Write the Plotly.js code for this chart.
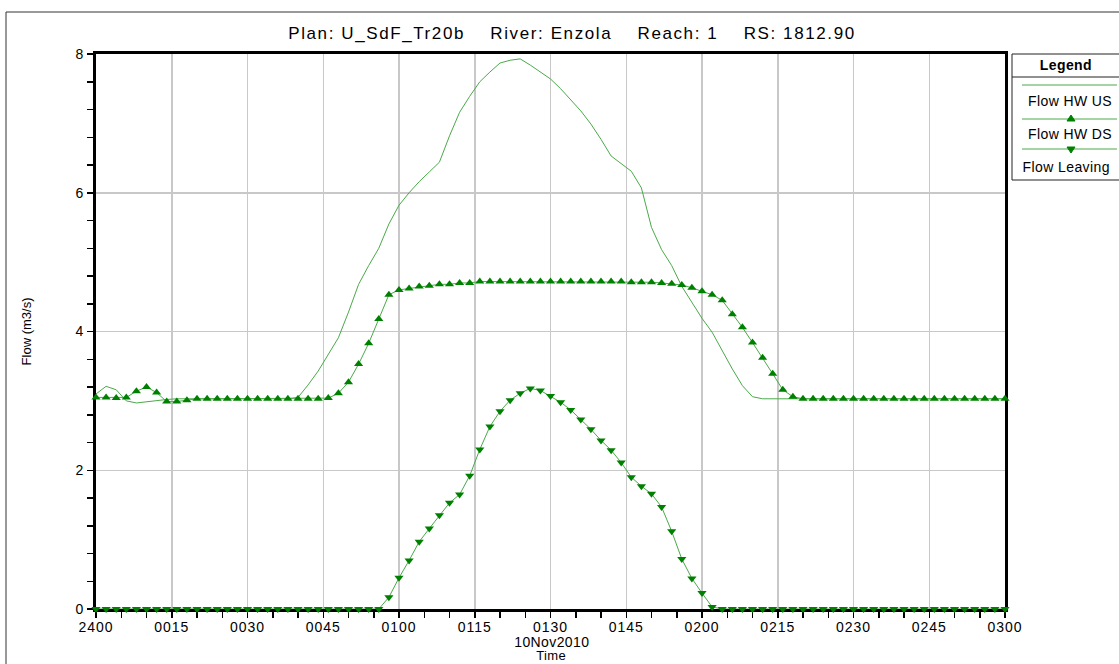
<!DOCTYPE html>
<html>
<head>
<meta charset="utf-8">
<script src="https://cdn.plot.ly/plotly-3.0.1.min.js"></script>
<style>
html,body{margin:0;padding:0;background:#fff;}
#chart{width:1119px;height:664px;}
#chart .gtitle{letter-spacing:1.6px;}
#chart .xtick text{letter-spacing:1px;}
#chart .ytick text{letter-spacing:1px;}
#chart .annotation-text{letter-spacing:0.4px;}
</style>
</head>
<body>
<div id="chart"></div>
<script>
// Time in minutes after 2400 (10Nov2010), 2-minute output interval
var timeMin = [0,2,4,6,8,10,12,14,16,18,20,22,24,26,28,30,32,34,36,38,40,42,44,46,48,50,52,54,56,58,
  60,62,64,66,68,70,72,74,76,78,80,82,84,86,88,90,92,94,96,98,100,102,104,106,108,110,112,114,116,118,
  120,122,124,126,128,130,132,134,136,138,140,142,144,146,148,150,152,154,156,158,160,162,164,166,168,170,172,174,176,178,180];

var flowHWUS = [3.10,3.21,3.16,3.00,2.97,2.99,3.01,3.02,
  3.03,3.03,3.03,3.03,3.03,3.03,3.03,3.03,3.03,3.03,3.03,3.03,
  3.05,3.23,3.43,3.66,3.91,4.28,4.68,4.95,5.20,5.55,5.82,6.00,6.16,6.30,6.44,6.82,7.16,7.39,7.60,7.74,
  7.87,7.91,7.93,7.84,7.74,7.64,7.50,7.34,7.18,6.99,6.77,6.53,6.42,6.31,6.07,5.50,5.18,4.95,4.65,4.42,
  4.19,3.99,3.72,3.46,3.22,3.06,
  3.03,3.03,3.03,3.03,3.03,3.03,3.03,3.03,3.03,3.03,3.03,3.03,3.03,3.03,3.03,3.03,3.03,3.03,3.03,3.03,3.03,3.03,3.03,3.03,3.03];

var flowHWDS = [3.05,3.05,3.04,3.05,3.14,3.20,3.12,2.99,2.99,3.01,3.03,
  3.03,3.03,3.03,3.03,3.03,3.03,3.03,3.03,3.03,3.03,3.03,3.03,
  3.04,3.11,3.27,3.53,3.83,4.18,4.53,4.60,4.62,4.65,4.66,4.68,4.68,4.70,4.70,
  4.72,4.72,4.72,4.72,4.72,4.72,4.72,4.72,4.72,4.72,4.72,4.72,4.72,4.72,4.72,
  4.71,4.71,4.71,4.70,4.69,4.67,4.63,4.58,4.53,4.45,4.25,4.06,3.84,3.62,3.39,3.16,3.06,
  3.03,3.03,3.03,3.03,3.03,3.03,3.03,3.03,3.03,3.03,3.03,3.03,3.03,3.03,3.03,3.03,3.03,3.03,3.03,3.03,3.03];

var flowLeaving = [0,0,0,0,0,0,0,0,0,0,0,0,0,0,0,0,0,0,0,0,0,0,0,0,0,0,0,0,0,
  0.17,0.45,0.70,0.97,1.16,1.35,1.53,1.65,1.92,2.30,2.63,2.85,3.01,3.11,3.18,3.15,3.07,2.98,2.87,2.73,
  2.59,2.43,2.29,2.11,1.90,1.77,1.66,1.47,1.12,0.72,0.44,0.23,0.03,
  0,0,0,0,0,0,0,0,0,0,0,0,0,0,0,0,0,0,0,0,0,0,0,0,0,0,0,0,0];

var xTickVals = [0,15,30,45,60,75,90,105,120,135,150,165,180];
var xTickText = ["2400","0015","0030","0045","0100","0115","0130","0145","0200","0215","0230","0245","0300"];
var yTickVals = [0,2,4,6,8];
var yTickText = ["0","2","4","6","8"];

var seriesNames = ["Flow HW US","Flow HW DS","Flow Leaving"];
var SP = "&nbsp;&nbsp;&nbsp;&nbsp;";
var titleText = "Plan: U_SdF_Tr20b" + SP + "River: Enzola" + SP + "Reach: 1" + SP + "RS: 1812.90";

var lineGreen = '#4aaa4a';
var markGreen = '#008000';
var FONT = 'Liberation Sans, Arial, sans-serif';

var traces = [
  {x: timeMin, y: flowHWUS, name: seriesNames[0], mode: 'lines',
   line: {color: lineGreen, width: 1}, showlegend: false, cliponaxis: false},
  {x: timeMin, y: flowHWDS, name: seriesNames[1], mode: 'lines+markers',
   line: {color: lineGreen, width: 1},
   marker: {symbol: 'triangle-up', size: 8, color: markGreen}, showlegend: false, cliponaxis: false},
  {x: timeMin, y: flowLeaving, name: seriesNames[2], mode: 'lines+markers',
   line: {color: lineGreen, width: 1},
   marker: {symbol: 'triangle-down', size: 8, color: markGreen}, showlegend: false, cliponaxis: false}
];

// pixel -> paper helpers (plot area: x 96..1005, y 54..609)
var L = 96, R = 1005, T = 54, B = 609;
function px(x){ return (x - L) / (R - L); }
function py(y){ return (B - y) / (B - T); }

var shapes = [];
// outer frame
shapes.push({type:'line', xref:'paper', yref:'paper', x0:px(6), x1:px(1119), y0:py(12), y1:py(12), line:{color:'#333', width:1}});
shapes.push({type:'line', xref:'paper', yref:'paper', x0:px(6), x1:px(6), y0:py(12), y1:py(664), line:{color:'#333', width:1}});
// legend box
shapes.push({type:'rect', xref:'paper', yref:'paper', x0:px(1012), x1:px(1121), y0:py(180), y1:py(54), line:{color:'#222', width:1}, fillcolor:'rgba(0,0,0,0)'});
shapes.push({type:'line', xref:'paper', yref:'paper', x0:px(1012), x1:px(1119), y0:py(77), y1:py(77), line:{color:'#222', width:1}});
var legLineY = [85, 119, 149];
legLineY.forEach(function(yy){
  shapes.push({type:'line', xref:'paper', yref:'paper', x0:px(1022), x1:px(1117), y0:py(yy), y1:py(yy), line:{color:lineGreen, width:1}});
});
function tri(cx, cy, up){
  var h = 6, w = 4;
  var p;
  if (up) p = 'M' + px(cx - w) + ',' + py(cy + h/2) + ' L' + px(cx + w) + ',' + py(cy + h/2) + ' L' + px(cx) + ',' + py(cy - h/2) + ' Z';
  else p = 'M' + px(cx - w) + ',' + py(cy - h/2) + ' L' + px(cx + w) + ',' + py(cy - h/2) + ' L' + px(cx) + ',' + py(cy + h/2) + ' Z';
  return {type:'path', xref:'paper', yref:'paper', path:p, fillcolor:markGreen, line:{color:markGreen, width:1}};
}
shapes.push(tri(1071, 118, true));
shapes.push(tri(1071, 150, false));

var annotations = [
  {text:'<b>Legend</b>', xref:'paper', yref:'paper', x:px(1066), y:py(65), showarrow:false, xanchor:'center', yanchor:'middle', font:{family:FONT, size:14, color:'#000'}},
  {text:seriesNames[0], xref:'paper', yref:'paper', x:px(1070), y:py(101), showarrow:false, xanchor:'center', yanchor:'middle', font:{family:FONT, size:14, color:'#000'}},
  {text:seriesNames[1], xref:'paper', yref:'paper', x:px(1070), y:py(134), showarrow:false, xanchor:'center', yanchor:'middle', font:{family:FONT, size:14, color:'#000'}},
  {text:seriesNames[2], xref:'paper', yref:'paper', x:px(1066), y:py(167), showarrow:false, xanchor:'center', yanchor:'middle', font:{family:FONT, size:14, color:'#000'}},
  {text:'10Nov2010', xref:'paper', yref:'paper', x:px(552), y:py(642), showarrow:false, xanchor:'center', yanchor:'middle', font:{family:FONT, size:14, color:'#000'}},
  {text:'Time', xref:'paper', yref:'paper', x:px(551), y:py(655), showarrow:false, xanchor:'center', yanchor:'middle', font:{family:FONT, size:13, color:'#000'}}
];

var layout = {
  width: 1119, height: 664,
  margin: {l: L, r: 1119 - R, t: T, b: 664 - B, pad: 0},
  paper_bgcolor: '#fff', plot_bgcolor: '#fff',
  showlegend: false,
  title: {text: titleText, x: 572/1119, xref:'container', xanchor:'center', y: 1 - 33/664, yref:'container', yanchor:'middle',
          font: {family: FONT, size: 17, color: '#000'}},
  xaxis: {range: [0, 180], tickmode: 'array', tickvals: xTickVals, ticktext: xTickText,
          showgrid: true, gridcolor: '#c8c8c8', gridwidth: 1.5, zeroline: false,
          showline: true, linecolor: '#000', linewidth: 3, mirror: true, layer: 'below traces',
          ticks: 'outside', ticklen: 6, tickwidth: 1.5, tickcolor: '#000', ticklabelstandoff: -3,
          minor: {tickmode:'linear', tick0: 0, dtick: 5, ticks: 'outside', ticklen: 6, tickwidth: 1.5, tickcolor:'#000', showgrid: false},
          tickfont: {family: FONT, size: 14, color: '#000'}, fixedrange: true},
  yaxis: {range: [0, 8], tickmode: 'array', tickvals: yTickVals, ticktext: yTickText,
          title: {text: 'Flow (m3/s)', font: {family: FONT, size: 13, color: '#000'}, standoff: 42},
          showgrid: true, gridcolor: '#c8c8c8', gridwidth: 1.5, zeroline: false,
          showline: true, linecolor: '#000', linewidth: 3, mirror: true, layer: 'below traces',
          ticks: 'outside', ticklen: 6, tickwidth: 1.5, tickcolor: '#000',
          minor: {tickmode:'linear', tick0: 0, dtick: 0.4, ticks: 'outside', ticklen: 6, tickwidth: 1.5, tickcolor:'#000', showgrid: false},
          tickfont: {family: FONT, size: 14, color: '#000'}, fixedrange: true},
  shapes: shapes,
  annotations: annotations
};

Plotly.newPlot('chart', traces, layout, {displayModeBar: false, staticPlot: true});
</script>
</body>
</html>
